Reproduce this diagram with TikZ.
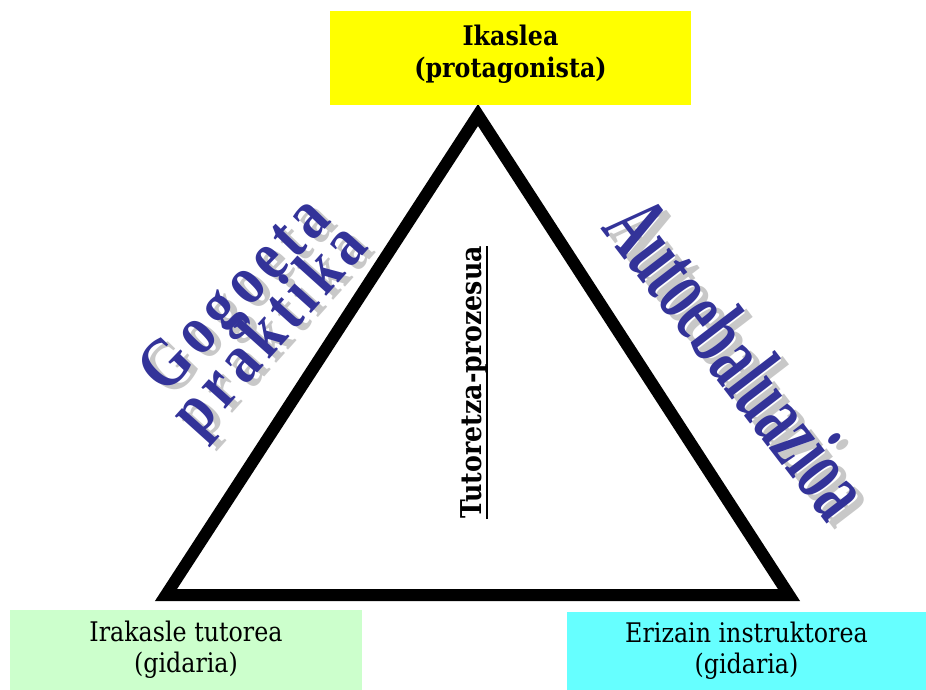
\documentclass[tikz,border=0pt]{standalone}
\usepackage{fontspec}
\usepackage{graphicx}
\usepackage{xcolor}
\setmainfont{DejaVu Serif}
\newfontfamily\etiquette[FakeStretch=0.88]{DejaVu Serif}
\newfontfamily\motart[LetterSpace=10]{Liberation Serif}
\newfontfamily\motlong{Liberation Serif}
\definecolor{jaune}{RGB}{255,255,0}
\definecolor{vertclair}{RGB}{204,255,204}
\definecolor{cyanclair}{RGB}{102,255,255}
\definecolor{bleuart}{RGB}{51,51,153}
\definecolor{grisombre}{RGB}{200,200,200}
\tikzset{
Boite/.style={
 fill=#1,
 inner sep=0pt,
 align=center
 },
TitreGras/.style={
 font=\etiquette\bfseries\fontsize{27}{32}\selectfont
 },
TitreFin/.style={
 font=\etiquette\fontsize{27}{31}\selectfont
 },
MotArt/.style={
 font=\motart\bfseries\fontsize{#1}{#1}\selectfont,
 text=bleuart,
 inner sep=0pt
 },
MotOmbre/.style={
 MotArt=#1,
 text=grisombre
 },
MotLong/.style={
 font=\motlong\bfseries\fontsize{56}{56}\selectfont,
 text=#1,
 inner sep=0pt,
 rotate=-52.5
 }
}
\begin{document}
\begin{tikzpicture}[x=1pt,y=-1pt]
\useasboundingbox (0,0) rectangle (926,690);
% triangle
\coordinate (sommet) at (478,115);
\coordinate (baseG) at (166,595);
\coordinate (baseD) at (789,595);
\draw[line width=12pt,line join=miter] (sommet) -- (baseG) -- (baseD) -- cycle;
% les trois acteurs
\node[Boite=jaune,TitreGras,text depth=14pt,minimum width=361pt,minimum height=94pt] (ikaslea) at (510.5,58) {Ikaslea\\(protagonista)};
\node[Boite=vertclair,TitreFin,minimum width=352pt,minimum height=80pt] (irakaslea) at (186,650) {Irakasle tutorea\\(gidaria)};
\node[Boite=cyanclair,TitreFin,minimum width=359pt,minimum height=78pt] (erizaina) at (746.5,651) {Erizain instruktorea\\(gidaria)};
% processus
\node[font=\etiquette\bfseries\fontsize{28.7}{32}\selectfont,inner sep=0pt,rotate=90,anchor=base] (tutoretza) at (481,382.5) {Tutoretza-prozesua};
\draw[line width=1.5pt] (tutoretza.south west) -- (tutoretza.south east);
% mots d'art
\node[MotOmbre=58,rotate=46] at (245,302) {\scalebox{1}[1.2]{Gogoeta}};
\node[MotArt=58,rotate=46] (gogoeta) at (238,298) {\scalebox{1}[1.2]{Gogoeta}};
\node[MotOmbre=58,rotate=48] at (279,336) {\scalebox{1}[1.2]{praktika}};
\node[MotArt=58,rotate=48] (praktika) at (272,332) {\scalebox{1}[1.2]{praktika}};
\node[MotLong=grisombre] at (747,363) {\scalebox{1}[1.65]{Autoebaluazioa}};
\node[MotLong=bleuart] (autoebaluazioa) at (739,357) {\scalebox{1}[1.65]{Autoebaluazioa}};
\end{tikzpicture}
\end{document}
